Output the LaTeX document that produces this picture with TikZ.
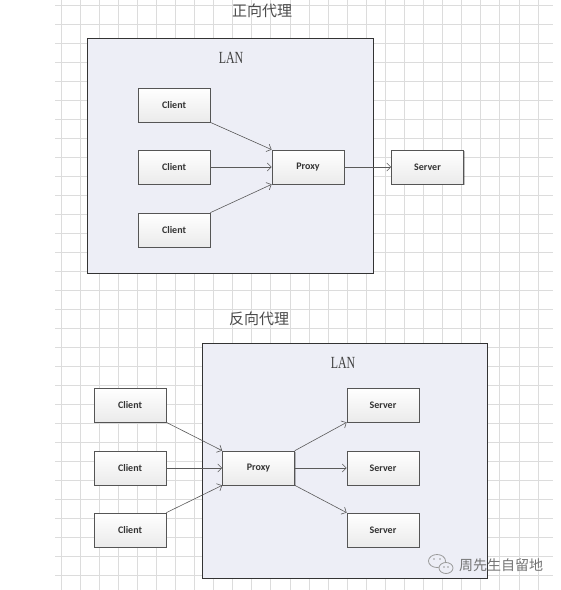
\documentclass[tikz,border=0pt]{standalone}
\usepackage{fontspec}
\setmainfont{Carlito}
\newfontfamily\cjk{Noto Sans CJK SC}
\newfontfamily\lanfont{Liberation Serif}
\usetikzlibrary{arrows.meta,shadows}
\definecolor{gridc}{HTML}{DCDCDC}
\definecolor{lanfill}{HTML}{EDEEF6}
\definecolor{boxline}{HTML}{555555}
\definecolor{arrowc}{HTML}{5A5A5A}
\begin{document}
\begin{tikzpicture}[x=1pt,y=-1pt,
 gridline/.style={gridc, line width=0.8pt},
 lanbox/.style={draw=black!80, fill=lanfill, line width=1pt},
 unit/.style={draw=boxline, line width=0.7pt, top color=white, bottom color=black!8,
   minimum width=72pt, minimum height=34pt, inner sep=0pt,
   font=\fontsize{10}{11}\selectfont\bfseries, text=black!80,
   drop shadow={shadow xshift=1pt, shadow yshift=-1pt, opacity=0.25, fill=black}},
 link/.style={draw=arrowc, line width=0.6pt, -{Straight Barb[length=4pt,width=8pt]}},
 title/.style={font=\cjk\fontsize{15}{15}\selectfont, text=black!70},
 lanlabel/.style={font=\lanfont\fontsize{17}{17}\selectfont, text=black!75},
 wmark/.style={font=\cjk\fontsize{14}{14}\selectfont, text=black!55}]
\useasboundingbox (0,0) rectangle (561,590);
\fill[white] (0,0) rectangle (561,590);
% grid
\foreach \i in {0,...,25} \draw[gridline] ({61+19.08*\i},0) -- ({61+19.08*\i},590);
\foreach \j in {0,...,30} \draw[gridline] (55,{5+19*\j}) -- (553,{5+19*\j});

% ---------- forward proxy ----------
\node[title] (t1) at (262,11) {正向代理};
\draw[lanbox] (87,38) rectangle (373,273);
\node[lanlabel] (lan1) at (231,58) {\scalebox{0.7}[1]{LAN}};
\node[unit] (fc1) at (174,105) {Client};
\node[unit] (fc2) at (174,167) {Client};
\node[unit] (fc3) at (174,230) {Client};
\node[unit] (fp) at (308,167) {Proxy};
\node[unit] (fs) at (427.5,167) {Server};
\draw[link] (fc1.south east) -- (fp.north west);
\draw[link] (fc2.east) -- (fp.west);
\draw[link] (fc3.north east) -- (fp.south west);
\draw[link] (fp.east) -- (fs.west);

% ---------- reverse proxy ----------
\node[title] (t2) at (259,319) {反向代理};
\draw[lanbox] (202,343) rectangle (487,578);
\node[lanlabel] (lan2) at (343,363) {\scalebox{0.7}[1]{LAN}};
\node[unit] (rc1) at (130,405) {Client};
\node[unit] (rc2) at (130,468) {Client};
\node[unit] (rc3) at (130,530) {Client};
\node[unit] (rp) at (258.5,468) {Proxy};
\node[unit] (rs1) at (383,405) {Server};
\node[unit] (rs2) at (383,468) {Server};
\node[unit] (rs3) at (383,530) {Server};
\draw[link] (rc1.south east) -- (rp.north west);
\draw[link] (rc2.east) -- (rp.west);
\draw[link] (rc3.north east) -- (rp.south west);
\draw[link] (rp.north east) -- (rs1.south west);
\draw[link] (rp.east) -- (rs2.west);
\draw[link] (rp.south east) -- (rs3.north west);

% ---------- watermark ----------
\draw[black!40, line width=0.8pt] (437,561) ellipse [x radius=8.5, y radius=6.5];
\draw[black!40, line width=0.8pt, fill=lanfill] (446,568) ellipse [x radius=7, y radius=5.5];
\fill[black!40] (434,559) circle (0.9) (440,559) circle (0.9) (444,567) circle (0.8) (448,567) circle (0.8);
\node[wmark] (wm) at (501,565) {周先生自留地};
\end{tikzpicture}
\end{document}
